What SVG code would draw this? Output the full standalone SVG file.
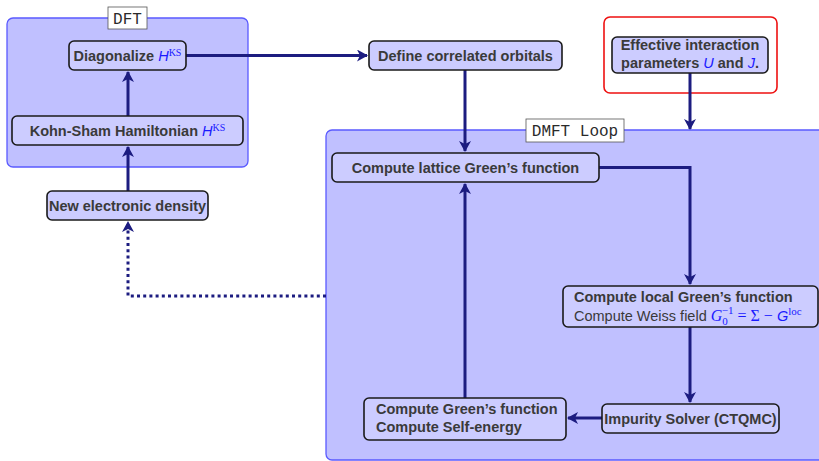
<svg xmlns="http://www.w3.org/2000/svg" width="819" height="461" viewBox="0 0 819 461">
  <style>
    .group { fill: #c0c0ff; stroke: #5a5aff; stroke-width: 1.3; }
    .tag { fill: #ffffff; stroke: #555555; stroke-width: 0.8; }
    .tagtxt { font-family: "Liberation Mono", "DejaVu Sans Mono", monospace; font-size: 16px; fill: #2a2a2a; }
    .node { fill: #ccccff; stroke: #1a1a1a; stroke-width: 1.6; }
    .lbl { font-family: "Liberation Sans", Arial, sans-serif; font-size: 14.5px; font-weight: bold; fill: #3a3a3a; }
    .plain { font-weight: normal; }
    .mi { font-style: italic; font-weight: normal; fill: #1a1aff; }
    .mr { font-family: "Liberation Serif", "Times New Roman", serif; font-weight: normal; fill: #1a1aff; }
    .wire { fill: none; stroke: #1c1c80; stroke-width: 3; }
    .dots { stroke-dasharray: 3 3.2; }
  </style>
  <defs>
    <marker id="tip" viewBox="0 0 12 12" refX="10" refY="6" markerWidth="12" markerHeight="12" markerUnits="userSpaceOnUse" orient="auto">
      <path d="M0,0 L11,6 L0,12 L3,6 Z" fill="#1c1c80"/>
    </marker>
  </defs>

  <!-- DFT group frame -->
  <g id="dft-group">
    <rect class="group" x="7" y="18" width="241" height="149" rx="6"/>
    <rect class="tag" x="108" y="7" width="39" height="22"/>
    <text class="tagtxt" x="127.5" y="23.5" text-anchor="middle">DFT</text>
  </g>

  <!-- DMFT loop frame -->
  <g id="dmft-group">
    <rect class="group" x="326" y="130" width="520" height="330" rx="6"/>
    <rect class="tag" x="526" y="119" width="98" height="23"/>
    <text class="tagtxt" x="575" y="136" text-anchor="middle">DMFT Loop</text>
  </g>

  <!-- Interaction parameters frame -->
  <g id="param-group">
    <rect x="604" y="17" width="173" height="76" rx="6" fill="#ffffff" stroke="#ee1111" stroke-width="1.6"/>
  </g>

  <!-- Connectors -->
  <g id="connectors">
    <path class="wire" d="M128,191 L128,147" marker-end="url(#tip)"/>
    <path class="wire" d="M128,116 L128,72" marker-end="url(#tip)"/>
    <path class="wire" d="M186,55.5 L367,55.5" marker-end="url(#tip)"/>
    <path class="wire" d="M465,70 L465,151" marker-end="url(#tip)"/>
    <path class="wire" d="M690,73 L690,129" marker-end="url(#tip)"/>
    <path class="wire" d="M599,167.5 L690,167.5 L690,284" marker-end="url(#tip)"/>
    <path class="wire" d="M690,327 L690,402" marker-end="url(#tip)"/>
    <path class="wire" d="M602,418 L568,418" marker-end="url(#tip)"/>
    <path class="wire" d="M465,398 L465,184" marker-end="url(#tip)"/>
    <path class="wire dots" d="M326,296 L128,296 L128,222" marker-end="url(#tip)"/>
  </g>

  <!-- Nodes -->
  <g id="diagonalize">
    <rect class="node" x="69" y="41" width="117" height="29" rx="5"/>
    <text class="lbl" x="127.5" y="60.5" text-anchor="middle">Diagonalize <tspan class="mi">H</tspan><tspan class="mr" font-size="10" dy="-5">KS</tspan></text>
  </g>

  <g id="kohn-sham">
    <rect class="node" x="12" y="116" width="231" height="29" rx="5"/>
    <text class="lbl" x="127.5" y="135.5" text-anchor="middle">Kohn-Sham Hamiltonian <tspan class="mi">H</tspan><tspan class="mr" font-size="10" dy="-5">KS</tspan></text>
  </g>

  <g id="density">
    <rect class="node" x="47" y="191" width="161" height="29" rx="5"/>
    <text class="lbl" x="127.5" y="210.5" text-anchor="middle">New electronic density</text>
  </g>

  <g id="orbitals">
    <rect class="node" x="369" y="41" width="193" height="29" rx="5"/>
    <text class="lbl" x="465.5" y="60.5" text-anchor="middle">Define correlated orbitals</text>
  </g>

  <g id="parameters">
    <rect class="node" x="612" y="37" width="156" height="36" rx="5"/>
    <text class="lbl" x="690" y="50" text-anchor="middle">Effective interaction</text>
    <text class="lbl" x="690" y="68" text-anchor="middle">parameters <tspan class="mi">U</tspan> and <tspan class="mi">J</tspan>.</text>
  </g>

  <g id="lattice">
    <rect class="node" x="332" y="153" width="267" height="29" rx="5"/>
    <text class="lbl" x="465.5" y="172.5" text-anchor="middle">Compute lattice Green’s function</text>
  </g>

  <g id="local">
    <rect class="node" x="563" y="286" width="255" height="41" rx="5"/>
    <text class="lbl" x="574" y="302">Compute local Green’s function</text>
    <text class="lbl plain" x="574" y="321">Compute Weiss field <tspan class="mr" font-style="italic" font-size="16">G</tspan><tspan class="mr" font-size="11" dy="4">0</tspan><tspan class="mr" font-size="11" dy="-11" dx="-6">−1</tspan><tspan class="mr" font-size="16" dy="7"> = Σ − </tspan><tspan class="mi">G</tspan><tspan class="mr" font-size="11" dy="-6">loc</tspan></text>
  </g>

  <g id="impurity">
    <rect class="node" x="602" y="404" width="177" height="29" rx="5"/>
    <text class="lbl" x="690.5" y="423.5" text-anchor="middle">Impurity Solver (CTQMC)</text>
  </g>

  <g id="self-energy">
    <rect class="node" x="364" y="398" width="202" height="42" rx="5"/>
    <text class="lbl" x="376" y="414">Compute Green’s function</text>
    <text class="lbl" x="376" y="432">Compute Self-energy</text>
  </g>
</svg>
